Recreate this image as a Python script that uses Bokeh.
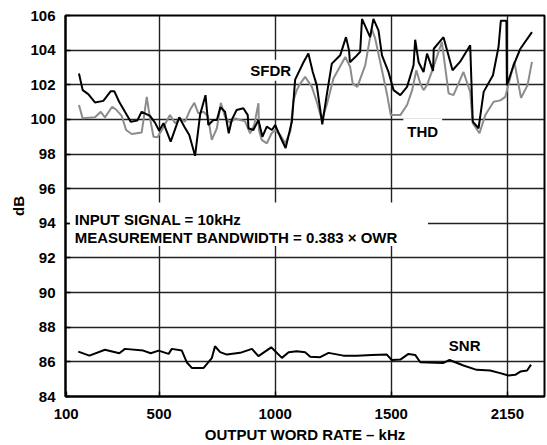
from bokeh.plotting import figure
from bokeh.models import Range1d, FixedTicker, Label, BoxAnnotation
from bokeh.embed import file_html
from bokeh.resources import INLINE

# ---- data ----
sfdr_x = [155, 171, 195, 224, 260, 292, 307, 328, 353, 378, 406, 425, 461, 483, 500, 519,
          550, 587, 609, 630, 655, 677, 700, 712, 734, 749, 764, 784, 800, 813, 834, 863,
          882, 885, 906, 928, 945, 964, 986, 1000, 1022, 1045, 1072, 1086, 1122, 1143, 1162,
          1179, 1203, 1222, 1244, 1280, 1305, 1318, 1322, 1345, 1366, 1374, 1409, 1423, 1445,
          1460, 1488, 1510, 1539, 1568, 1596, 1603, 1618, 1639, 1654, 1680, 1683, 1725, 1764,
          1796, 1840, 1851, 1876, 1898, 1938, 1962, 1972, 1996, 1998, 2027, 2056, 2106]
sfdr_y = [102.65, 101.69, 101.46, 100.98, 101.07, 101.63, 101.63, 101.02, 100.44, 99.87, 99.93,
          100.44, 100.2, 99.8, 99.35, 99.78, 98.72, 100.12, 99.58, 99.1, 97.9, 100.3, 101.4,
          99.68, 99.97, 99.97, 100.7, 100.44, 99.2, 99.97, 100.54, 100.64, 100.25, 99.49, 99.39,
          99.97, 99.0, 99.58, 99.39, 99.68, 99.0, 98.35, 99.87, 102.3, 103.3, 103.8, 102.74,
          101.98, 99.72, 101.4, 103.22, 103.7, 104.75, 104.0, 103.3, 103.6, 103.9, 105.8, 104.75,
          105.8, 105.14, 103.7, 102.74, 101.69, 101.4, 101.88, 103.13, 104.6, 103.3, 102.74,
          103.8, 102.8, 104.08, 104.75, 102.84, 103.32, 104.28, 99.87, 99.49, 101.59, 102.55,
          104.18, 105.7, 105.7, 101.98, 103.13, 104.08, 105.04]

thd_x = [155, 171, 224, 249, 267, 298, 317, 339, 358, 382, 425, 447, 461, 476, 493, 512, 547,
         569, 590, 612, 633, 652, 669, 691, 710, 727, 749, 766, 784, 805, 828, 849, 870, 892,
         910, 928, 930, 942, 964, 985, 1000, 1022, 1043, 1065, 1079, 1093, 1108, 1129, 1158,
         1179, 1201, 1222, 1251, 1302, 1323, 1334, 1354, 1388, 1409, 1416, 1431, 1460, 1481,
         1498, 1539, 1568, 1590, 1608, 1625, 1639, 1654, 1682, 1718, 1747, 1768, 1811, 1840,
         1851, 1880, 1905, 1941, 1970, 1991, 2030, 2059, 2087, 2106]
thd_y = [100.83, 100.06, 100.12, 100.44, 100.12, 100.73, 100.54, 100.2, 99.39, 99.16, 99.24,
         101.3, 100.06, 99.0, 98.97, 99.39, 100.25, 99.78, 100.06, 99.87, 100.54, 100.96, 100.35,
         100.44, 100.2, 98.82, 99.49, 100.96, 100.16, 99.8, 100.06, 99.97, 99.9, 99.2, 99.7,
         100.93, 99.39, 98.82, 98.62, 99.2, 99.39, 99.1, 98.62, 99.29, 101.1, 101.69, 102.07,
         102.46, 101.88, 101.02, 99.97, 100.83, 102.36, 103.6, 103.03, 102.07, 101.88, 103.13,
         104.75, 105.23, 104.66, 102.84, 101.5, 100.25, 100.25, 100.83, 101.69, 102.84, 102.07,
         101.69, 101.98, 103.03, 104.47, 101.5, 101.4, 102.74, 101.59, 99.78, 99.2, 100.25,
         101.02, 101.1, 101.3, 103.32, 101.24, 101.98, 103.32]

snr_x = [152, 200, 267, 329, 353, 432, 464, 498, 541, 555, 598, 619, 641, 691, 727, 741, 763,
         792, 849, 900, 928, 983, 1029, 1058, 1093, 1129, 1151, 1194, 1230, 1294, 1352, 1416,
         1481, 1502, 1539, 1574, 1603, 1625, 1725, 1751, 1811, 1868, 1926, 1969, 2005, 2034,
         2056, 2085, 2102]
snr_y = [86.59, 86.36, 86.7, 86.5, 86.75, 86.65, 86.5, 86.65, 86.46, 86.75, 86.65, 85.98, 85.65,
         85.64, 86.21, 86.9, 86.56, 86.42, 86.52, 86.75, 86.33, 86.84, 86.23, 86.56, 86.61, 86.56,
         86.3, 86.27, 86.52, 86.36, 86.36, 86.4, 86.42, 86.11, 86.13, 86.46, 86.4, 85.98, 85.94,
         86.11, 85.79, 85.54, 85.5, 85.35, 85.21, 85.25, 85.44, 85.5, 85.84]

x_ticks = [100, 500, 1000, 1500, 2000]
x_tick_labels = ["100", "500", "1000", "1500", "2150"]
y_ticks = [84, 86, 88, 90, 92, 94, 96, 98, 100, 102, 104, 106]

FONT = "Liberation Sans"

p = figure(width=547, height=445, x_range=Range1d(97, 2160), y_range=Range1d(84, 106),
           output_backend="svg", toolbar_location=None,
           min_border_left=65, min_border_right=3, min_border_top=15, min_border_bottom=46)
p.background_fill_color = "white"
p.border_fill_color = "white"
p.outline_line_color = "black"
p.outline_line_width = 2

# grids
p.xgrid.ticker = FixedTicker(ticks=x_ticks[1:])
p.ygrid.ticker = FixedTicker(ticks=y_ticks)
for g in (p.xgrid, p.ygrid):
    g.grid_line_color = "#222222"
    g.grid_line_width = 1.4

# axes
p.xaxis.ticker = FixedTicker(ticks=x_ticks)
p.xaxis.major_label_overrides = {t: l for t, l in zip(x_ticks, x_tick_labels)}
p.yaxis.ticker = FixedTicker(ticks=y_ticks)
for ax in (p.xaxis, p.yaxis):
    ax.axis_line_color = "black"
    ax.axis_line_width = 2
    ax.major_tick_in = 5
    ax.major_tick_out = 0
    ax.major_tick_line_width = 1.4
    ax.minor_tick_line_color = None
    ax.major_label_text_font = FONT
    ax.major_label_text_font_style = "bold"
    ax.major_label_text_font_size = "15px"
    ax.major_label_text_color = "black"
    ax.axis_label_text_font = FONT
    ax.axis_label_text_font_style = "bold"
    ax.axis_label_text_font_size = "15px"
    ax.axis_label_text_color = "black"
p.xaxis.axis_label = "OUTPUT WORD RATE \u2013 kHz"
p.yaxis.axis_label = "dB"
p.xaxis.major_label_standoff = 12
p.xaxis.axis_label_standoff = 4
p.yaxis.major_label_standoff = 10
p.yaxis.axis_label_standoff = 0

# data lines
p.line(thd_x, thd_y, line_color="#8c8c8c", line_width=2)
p.line(sfdr_x, sfdr_y, line_color="black", line_width=2)
p.line(snr_x, snr_y, line_color="black", line_width=2)

# annotation box
p.add_layout(BoxAnnotation(left=116, right=1658, top=95.2, bottom=92.8,
                           fill_color="white", fill_alpha=1.0, line_alpha=0))

def lab(x, y, text, pad=0):
    p.add_layout(Label(x=x, y=y, text=text, text_font=FONT, text_font_style="bold",
                       text_font_size="15px", text_color="black", text_baseline="alphabetic",
                       background_fill_color="white", padding=pad))

lab(137, 94.22, "INPUT SIGNAL = 10kHz")
lab(137, 93.18, "MEASUREMENT BANDWIDTH = 0.383 \u00d7 OWR")
lab(884, 102.84, "SFDR", 2)
lab(1552, 99.33, "THD", 4)
lab(1748, 86.92, "SNR", 0)

open("out.html", "w").write(file_html(p, INLINE))
